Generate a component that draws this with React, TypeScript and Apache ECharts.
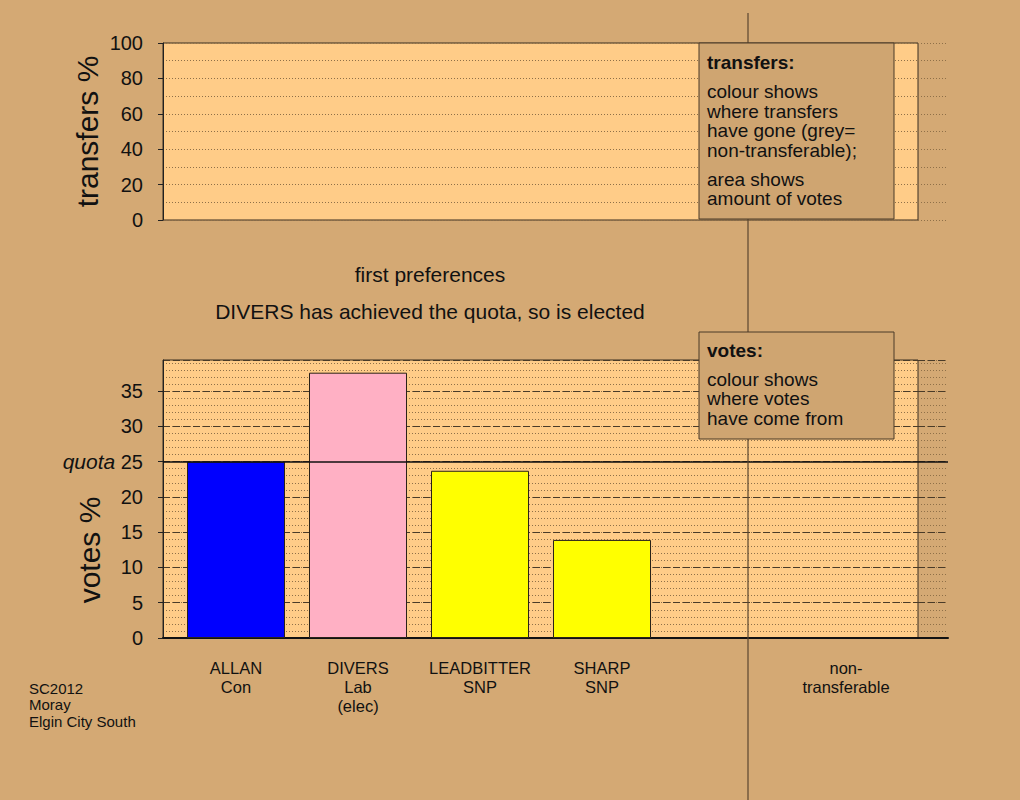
import React, { useEffect, useRef } from "react";
import * as echarts from "echarts";

const categories = ["ALLAN\nCon", "DIVERS\nLab\n(elec)", "LEADBITTER\nSNP", "SHARP\nSNP", "", "non-\ntransferable"];
const votes: (number | null)[] = [25.0, 37.6, 23.7, 13.9, null, null];
const barColors = ["#0000FF", "#FFB0C4", "#FFFF00", "#FFFF00", "#999999", "#999999"];
const quota = 25;
const votesMax = 39.4;
const transfersMax = 100;

const titleLines = ["first preferences", "DIVERS has achieved the quota, so is elected"];
const footerLines = ["SC2012", "Moray", "Elgin City South"];
const transfersNote = { title: "transfers:", body1: ["colour shows", "where transfers", "have gone (grey=", "non-transferable);"], body2: ["area shows", "amount of votes"] };
const votesNote = { title: "votes:", body: ["colour shows", "where votes", "have come from"] };
const votesAxisName = "votes %";

const BG = "#D4A974";
const PLOT = "#FFCC88";
const DOT = { color: "#8f7048", type: [1, 2] as any, width: 1 };
const DASH = { color: "#4a3b28", type: [7, 3] as any, width: 1 };
const FONT = "Liberation Sans, Arial, sans-serif";

export default function App() {
  const ref = useRef<HTMLDivElement>(null);
  useEffect(() => {
    document.body.style.margin = "0";
    document.body.style.background = BG;
    const chart = echarts.init(ref.current!, null, { renderer: "svg" });
    const hiddenX = (gridIndex: number) => ({ type: "value", gridIndex, min: 0, max: 1, show: false });
    const lineX = (gridIndex: number) => ({
      type: "value", gridIndex, min: 0, max: 1, show: true,
      axisLine: { show: true, lineStyle: { color: "#111", width: 2 } },
      axisLabel: { show: false }, axisTick: { show: false }, splitLine: { show: false },
    });
    const hiddenLinesY = (gridIndex: number, max: number, interval: number, style: any, position: string) => ({
      type: "value", gridIndex, min: 0, max, interval, show: true, position,
      axisLine: { show: false }, axisLabel: { show: false }, axisTick: { show: false },
      splitLine: { show: true, lineStyle: style },
    });
    const option: any = {
      animation: false,
      backgroundColor: BG,
      textStyle: { fontFamily: FONT },
      grid: [
        { left: 163, top: 43, width: 755, height: 177, show: true, backgroundColor: PLOT, borderColor: "#3a2e20", borderWidth: 1 },
        { left: 918, top: 43, width: 30, height: 177, show: false },
        { left: 163, top: 360, width: 755, height: 278, show: true, backgroundColor: PLOT, borderColor: "#3a2e20", borderWidth: 1 },
        { left: 918, top: 360, width: 30, height: 278, show: false },
        { left: 175, top: 360, width: 732, height: 278, show: false },
      ],
      xAxis: [
        hiddenX(0),
        hiddenX(1),
        lineX(2),
        lineX(3),
        {
          type: "category", gridIndex: 4, data: categories,
          axisLine: { show: false }, axisTick: { show: false }, splitLine: { show: false },
          axisLabel: { interval: 0, margin: 20, fontSize: 16.5, lineHeight: 19, color: "#111", fontFamily: FONT },
        },
      ],
      yAxis: [
        {
          type: "value", gridIndex: 0, min: 0, max: transfersMax, interval: 20, position: "left",
          name: "transfers %", nameLocation: "middle", nameGap: 61, nameRotate: 90, nameMoveOverlap: false,
          nameTextStyle: { fontSize: 30, color: "#111", fontFamily: FONT },
          axisLine: { show: true, lineStyle: { color: "#222" } },
          axisTick: { show: true, length: 5, lineStyle: { color: "#222" } },
          axisLabel: { fontSize: 20, color: "#111", margin: 20, fontFamily: FONT },
          splitLine: { show: true, lineStyle: DOT },
          minorTick: { show: false, splitNumber: 2 },
          minorSplitLine: { show: true, lineStyle: DOT },
        },
        {
          type: "value", gridIndex: 1, min: 0, max: transfersMax, interval: 20, show: true, position: "left",
          axisLine: { show: false }, axisLabel: { show: false }, axisTick: { show: false },
          splitLine: { show: true, lineStyle: DOT },
          minorTick: { show: false, splitNumber: 2 },
          minorSplitLine: { show: true, lineStyle: DOT },
        },
        hiddenLinesY(2, votesMax, 1, DOT, "right"),
        {
          type: "value", gridIndex: 2, min: 0, max: votesMax, interval: 5, position: "left",
          axisLine: { show: true, lineStyle: { color: "#222" } },
          axisTick: { show: true, length: 5, lineStyle: { color: "#222" } },
          axisLabel: {
            fontSize: 20, color: "#111", margin: 20, fontFamily: FONT, showMaxLabel: false,
            formatter: (v: number) => (v === quota ? "{q|quota} " + v : String(v)),
            rich: { q: { fontStyle: "italic", fontSize: 21, color: "#111", fontFamily: FONT } },
          },
          splitLine: { show: true, lineStyle: DASH },
        },
        hiddenLinesY(3, votesMax, 1, DOT, "right"),
        hiddenLinesY(3, votesMax, 5, DASH, "left"),
        { type: "value", gridIndex: 4, min: 0, max: votesMax, show: false },
      ],
      series: [
        {
          type: "bar", xAxisIndex: 4, yAxisIndex: 6, barWidth: 98, z: 3,
          data: votes.map((v, i) => ({ value: v, itemStyle: { color: barColors[i], borderColor: "#2a2218", borderWidth: 1 } })),
        },
        {
          type: "line", xAxisIndex: 2, yAxisIndex: 3, data: [], silent: true,
          markLine: { symbol: "none", silent: true, label: { show: false }, lineStyle: { color: "#111", type: "solid", width: 1.5 }, data: [{ yAxis: quota }] },
        },
        {
          type: "line", xAxisIndex: 3, yAxisIndex: 5, data: [], silent: true,
          markLine: { symbol: "none", silent: true, label: { show: false }, lineStyle: { color: "#111", type: "solid", width: 1.5 }, data: [{ yAxis: quota }] },
        },
      ],
      graphic: [
        { type: "line", z: 50, shape: { x1: 748, y1: 13, x2: 748, y2: 800 }, style: { stroke: "#5a4630", lineWidth: 1.2 } },
        {
          type: "text", z: 60, x: 89, y: 550, rotation: Math.PI / 2,
          style: { text: votesAxisName, fontSize: 30, fill: "#111", align: "center", verticalAlign: "middle", fontFamily: FONT },
        },
        {
          type: "text", z: 60, x: 430, y: 274,
          style: { text: titleLines[0], fontSize: 21, fill: "#111", align: "center", verticalAlign: "middle", fontFamily: FONT },
        },
        {
          type: "text", z: 60, x: 430, y: 311,
          style: { text: titleLines[1], fontSize: 21, fill: "#111", align: "center", verticalAlign: "middle", fontFamily: FONT },
        },
        {
          type: "text", z: 60, x: 29, y: 680,
          style: { text: footerLines.join("\n"), fontSize: 15, lineHeight: 16.5, fill: "#111", align: "left", verticalAlign: "top", fontFamily: FONT },
        },
        {
          type: "rect", z: 70, shape: { x: 699, y: 43, width: 195, height: 176 },
          style: { fill: "#CFA571", stroke: "#4a3a28", lineWidth: 1 },
        },
        {
          type: "text", z: 71, x: 707, y: 62,
          style: { text: transfersNote.title, fontSize: 19, fontWeight: "bold", fill: "#111", verticalAlign: "middle", fontFamily: FONT },
        },
        {
          type: "text", z: 71, x: 707, y: 82,
          style: { text: transfersNote.body1.join("\n"), fontSize: 19, lineHeight: 19.5, fill: "#111", verticalAlign: "top", fontFamily: FONT },
        },
        {
          type: "text", z: 71, x: 707, y: 169.5,
          style: { text: transfersNote.body2.join("\n"), fontSize: 19, lineHeight: 19.5, fill: "#111", verticalAlign: "top", fontFamily: FONT },
        },
        {
          type: "rect", z: 70, shape: { x: 699, y: 332, width: 195, height: 107 },
          style: { fill: "#CFA571", stroke: "#4a3a28", lineWidth: 1 },
        },
        {
          type: "text", z: 71, x: 707, y: 350,
          style: { text: votesNote.title, fontSize: 19, fontWeight: "bold", fill: "#111", verticalAlign: "middle", fontFamily: FONT },
        },
        {
          type: "text", z: 71, x: 707, y: 369.5,
          style: { text: votesNote.body.join("\n"), fontSize: 19, lineHeight: 19.5, fill: "#111", verticalAlign: "top", fontFamily: FONT },
        },
      ],
    };
    chart.setOption(option);
    return () => chart.dispose();
  }, []);
  return <div ref={ref} style={{ position: "fixed", left: 0, top: 0, width: 1020, height: 800 }} />;
}
